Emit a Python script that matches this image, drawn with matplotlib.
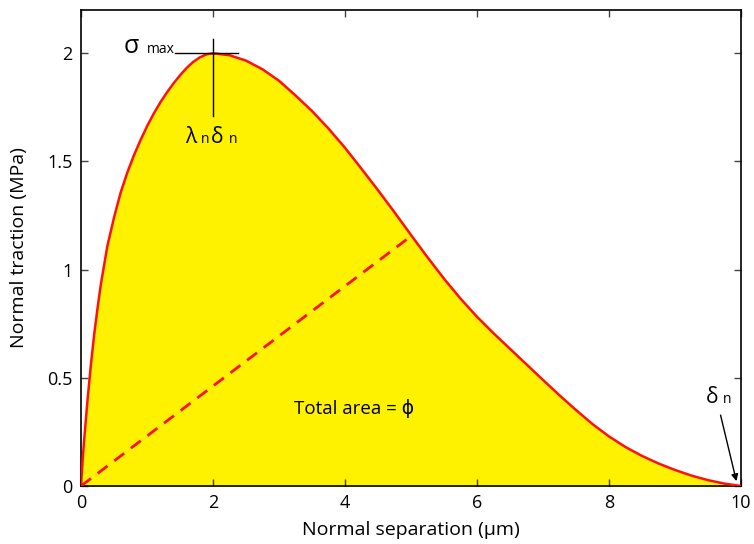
import matplotlib
matplotlib.use('Agg')
import matplotlib.pyplot as plt
from matplotlib.ticker import FormatStrFormatter

plt.rcParams['font.family'] = ['Open Sans', 'DejaVu Sans']

# traction-separation curve
sep = [0, 0.025, 0.05, 0.1, 0.15, 0.2, 0.25, 0.3, 0.4, 0.5, 0.6, 0.7, 0.8,
       0.9, 1.0, 1.1, 1.2, 1.3, 1.4, 1.5, 1.6, 1.7, 1.8, 1.9, 2.0,
       2.25, 2.5, 2.75, 3.0, 3.25, 3.5, 3.75, 4.0, 4.25, 4.5, 4.75, 5.0,
       5.25, 5.5, 5.75, 6.0, 6.25, 6.5, 6.75, 7.0, 7.25, 7.5, 7.75, 8.0,
       8.25, 8.5, 8.75, 9.0, 9.25, 9.5, 9.75, 10.0]
trac = [0, 0.12, 0.22, 0.40, 0.56, 0.70, 0.82, 0.93, 1.11, 1.24, 1.355, 1.447,
        1.527, 1.597, 1.662, 1.72, 1.772, 1.818, 1.86, 1.898, 1.932, 1.96,
        1.981, 1.995, 2.0,
        1.991, 1.966, 1.926, 1.873, 1.805, 1.733, 1.652, 1.563, 1.466, 1.367,
        1.265, 1.160,
        1.057, 0.958, 0.866, 0.782, 0.706, 0.634, 0.562, 0.490, 0.419, 0.351,
        0.286, 0.229, 0.180, 0.139, 0.104, 0.074, 0.048, 0.027, 0.011, 0.0]

# secant line to the curve
sec_x = [0, 5.0]
sec_y = [0, 1.155]

x_ticks = [0, 2, 4, 6, 8, 10]
y_ticks = [0, 0.5, 1, 1.5, 2]

fig = plt.figure(figsize=(7.54, 5.44), dpi=100)
ax = fig.add_axes([0.1074, 0.1066, 0.8754, 0.875])

ax.fill_between(sep, trac, color='#fff200', lw=1.5, edgecolor='#fff200', zorder=1)
ax.plot(sep, trac, color='#ff1010', lw=1.8, zorder=3)
ax.plot(sec_x, sec_y, color='#ff1010', lw=2, dashes=(4.5, 3), zorder=3)

ax.set_xlim(0, 10)
ax.set_ylim(0, 2.2)
ax.set_xticks(x_ticks)
ax.set_yticks(y_ticks)
ax.yaxis.set_major_formatter(FormatStrFormatter('%g'))
ax.tick_params(direction='in', length=5, width=1, color='#444444',
               top=True, right=True, labelsize=13, pad=6)
for s in ax.spines.values():
    s.set_linewidth(1.2)

ax.set_xlabel('Normal separation (\u03bcm)', fontsize=14, labelpad=6)
ax.set_ylabel('Normal traction (MPa)', fontsize=14, labelpad=14)

# peak markers
ax.plot([1.42, 2.38], [2.0, 2.0], color='black', lw=1, zorder=4)
ax.plot([2.0, 2.0], [1.71, 2.065], color='black', lw=1, zorder=4)

ax.text(0.65, 2.0, '\u03c3', fontsize=18, va='baseline', ha='left')
ax.text(1.0, 2.0, 'max', fontsize=10, va='baseline', ha='left')

ax.text(1.58, 1.585, '\u03bb', fontsize=15, va='baseline', ha='left')
ax.text(1.81, 1.585, 'n', fontsize=10, va='baseline', ha='left')
ax.text(1.97, 1.585, '\u03b4', fontsize=15, va='baseline', ha='left')
ax.text(2.24, 1.585, 'n', fontsize=10, va='baseline', ha='left')

ax.text(3.22, 0.335, 'Total area = \u03d5', fontsize=13.5, va='baseline', ha='left')

ax.text(9.47, 0.384, '\u03b4', fontsize=15, va='baseline', ha='left')
ax.text(9.72, 0.384, 'n', fontsize=10, va='baseline', ha='left')
ax.annotate('', xy=(9.94, 0.01), xytext=(9.68, 0.34),
            arrowprops=dict(arrowstyle='-|>', color='black', lw=1,
                            mutation_scale=10))

fig.savefig('out.png', dpi=100)
